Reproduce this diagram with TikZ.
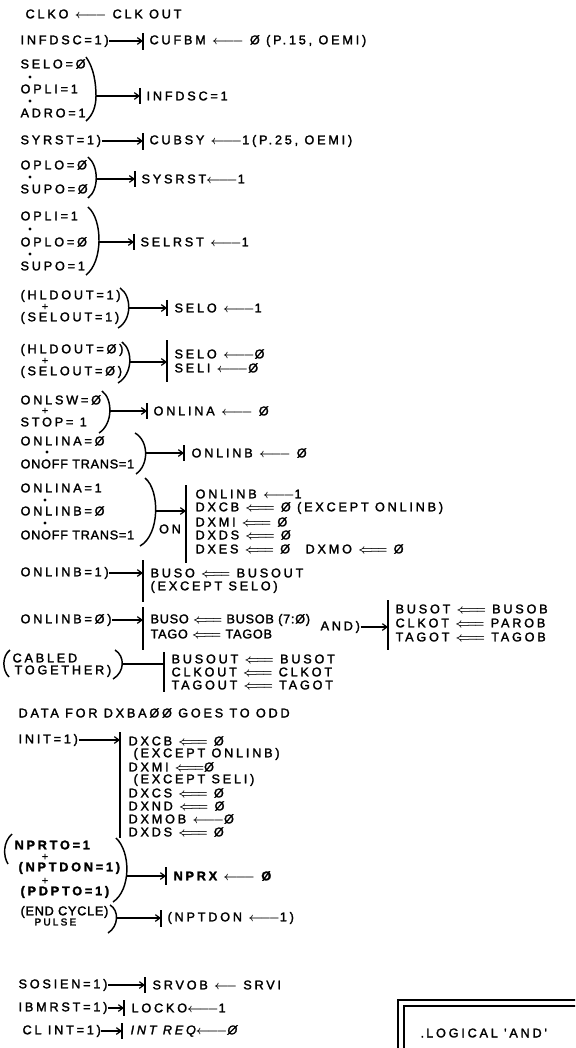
\documentclass[tikz,border=0pt]{standalone}
\usepackage{amsmath}
\usepackage{fontspec}
\usetikzlibrary{arrows.meta}
\newfontfamily\letterfont{Liberation Sans}[LetterSpace=22,FakeBold=2]
\newfontfamily\tightfont{Liberation Sans}[LetterSpace=6,FakeBold=2]
\newcommand{\lto}{{\boldmath$\leftarrow\joinrel\relbar\joinrel\relbar$}}
\newcommand{\sto}{{\boldmath$\leftarrow\joinrel\relbar$}}
\newcommand{\Lto}{{\boldmath$\Leftarrow\joinrel\Relbar\joinrel\Relbar$}}

\begin{document}
\begin{tikzpicture}[
  x=0.75pt,
  y=-0.75pt,
  line width=0.9pt,
  every node/.style={font=\letterfont\fontsize{9.5}{11}\selectfont},
  txt/.style={anchor=west, inner sep=0pt},
  tight/.style={font=\tightfont\fontsize{9.5}{11}\selectfont},
  heavy/.style={font=\letterfont\bfseries\fontsize{9.5}{11}\selectfont},
  plus/.style={inner sep=0pt, font=\letterfont\fontsize{8}{8}\selectfont},
  feed/.style={-{Straight Barb[length=3.5pt,width=5pt]}},
  andot/.style={circle, fill, inner sep=0pt, minimum size=2.6pt},
  brace/.style={line width=1.1pt}
]
  \useasboundingbox (0,0) rectangle (575,1048);
  \clip (0,0) rectangle (575,1048);

  % clock line
  \node[txt] (clko) at (25,14) {CLKO \lto\ CLK OUT};

  % INFDSC -> CUFBM
  \node[txt] (infdsc) at (20,41) {INFDSC=1)};
  \coordinate (b2) at (143,41);
  \draw (143,33) -- (143,50);
  \draw[feed] (infdsc.east) -- (b2);
  \node[txt] (cufbm) at (149,41) {CUFBM \lto\ Ø (P.15, OEMI)};

  % SELO . OPLI . ADRO
  \node[txt] (selo) at (20,64) {SELO=Ø};
  \node[andot] (d3a) at (30,77) {};
  \node[txt] (opli) at (20,89) {OPLI=1};
  \node[andot] (d3b) at (30,101) {};
  \node[txt] (adro) at (20,113) {ADRO=1};
  \draw[brace] (86,57) .. controls (94,68) and (96,84) .. (96,96)
    .. controls (96,106) and (93,115) .. (86,121);
  \coordinate (j3) at (96,96);
  \coordinate (b3) at (140,96);
  \draw (140,88) -- (140,104);
  \draw[feed] (j3) -- (b3);
  \node[txt] (infdsc1) at (146,96) {INFDSC=1};

  % SYRST -> CUBSY
  \node[txt] (syrst) at (20,141) {SYRST=1)};
  \coordinate (b4) at (143,141);
  \draw (143,133) -- (143,150);
  \draw[feed] (syrst.east) -- (b4);
  \node[txt] (cubsy) at (149,141) {CUBSY \lto1(P.25, OEMI)};

  % OPLO . SUPO
  \node[txt] (oplo) at (20,165) {OPLO=Ø};
  \node[andot] (d5) at (30,177) {};
  \node[txt] (supo) at (20,189) {SUPO=Ø};
  \draw[brace] (88,157) .. controls (99,166) and (99,190) .. (88,198);
  \coordinate (j5) at (96,179);
  \coordinate (b5) at (135,179);
  \draw (135,171) -- (135,187);
  \draw[feed] (j5) -- (b5);
  \node[txt] (sysrst) at (141,179) {SYSRST\lto1};

  % OPLI . OPLO . SUPO
  \node[txt] (opli2) at (20,216) {OPLI=1};
  \node[andot] (d6a) at (30,229) {};
  \node[txt] (oplo2) at (20,242) {OPLO=Ø};
  \node[andot] (d6b) at (30,254) {};
  \node[txt] (supo2) at (20,266) {SUPO=1};
  \draw[brace] (88,207) .. controls (103,220) and (103,262) .. (86,275);
  \coordinate (j6) at (99,242);
  \coordinate (b6) at (134,242);
  \draw (134,234) -- (134,250);
  \draw[feed] (j6) -- (b6);
  \node[txt] (selrst) at (140,242) {SELRST \lto1};

  % HLDOUT + SELOUT = 1
  \node[txt] (hld1) at (20,296) {(HLDOUT=1)};
  \node[plus] (p7) at (45,307) {+};
  \node[txt] (sel1) at (20,318) {(SELOUT=1)};
  \draw[brace] (120,288) .. controls (132,296) and (132,320) .. (118,328);
  \coordinate (j7) at (129,308);
  \coordinate (b7) at (167,308);
  \draw (167,300) -- (167,316);
  \draw[feed] (j7) -- (b7);
  \node[txt] (selo1) at (174,308) {SELO \lto1};

  % HLDOUT + SELOUT = 0
  \node[txt] (hld0) at (20,350) {(HLDOUT=Ø)};
  \node[plus] (p8) at (45,361) {+};
  \node[txt] (sel0) at (20,372) {(SELOUT=Ø)};
  \draw[brace] (122,342) .. controls (133,350) and (133,374) .. (118,383);
  \coordinate (j8) at (130,362);
  \coordinate (b8) at (167,362);
  \draw (167,340) -- (167,382);
  \draw[feed] (j8) -- (b8);
  \node[txt] (selo0) at (174,354) {SELO \lto Ø};
  \node[txt] (seli0) at (174,368) {SELI \lto Ø};

  % ONLSW + STOP
  \node[txt] (onlsw) at (20,400) {ONLSW=Ø};
  \node[plus] (p9) at (45,411) {+};
  \node[txt] (stop) at (20,422) {STOP= 1};
  \draw[brace] (102,391) .. controls (113,399) and (113,424) .. (99,433);
  \coordinate (j9) at (110,411);
  \coordinate (b9) at (147,411);
  \draw (147,403) -- (147,419);
  \draw[feed] (j9) -- (b9);
  \node[txt] (onlina) at (153,411) {ONLINA \lto\ Ø};

  % ONLINA . ONOFF TRANS
  \node[txt] (onlina0) at (20,441) {ONLINA=Ø};
  \node[andot] (d10) at (47,452) {};
  \node[txt, tight] (onoff1) at (20,464) {ONOFF TRANS=1};
  \draw[brace] (135,433) .. controls (149,441) and (149,465) .. (136,474);
  \coordinate (j10) at (146,453);
  \coordinate (b10) at (184,453);
  \draw (184,445) -- (184,461);
  \draw[feed] (j10) -- (b10);
  \node[txt] (onlinb0) at (191,453) {ONLINB \lto\ Ø};

  % ONLINA . ONLINB . ONOFF TRANS
  \node[txt] (onlina1) at (20,488) {ONLINA=1};
  \node[andot] (d11a) at (45,500) {};
  \node[txt] (onlinb1) at (20,511) {ONLINB=Ø};
  \node[andot] (d11b) at (45,523) {};
  \node[txt, tight] (onoff2) at (20,535) {ONOFF TRANS=1};
  \draw[brace] (145,478) .. controls (160,490) and (160,535) .. (140,546);
  \coordinate (j11) at (156,511);
  \coordinate (b11) at (186,511);
  \draw (186,485) -- (186,563);
  \draw[feed] (j11) -- (b11);
  \node (on) at (170,529) {ON};
  \node[txt] (r11a) at (195,494) {ONLINB \lto1};
  \node[txt] (r11b) at (195,508) {DXCB \Lto\ Ø (EXCEPT ONLINB)};
  \node[txt] (r11c) at (195,522) {DXMI \Lto\ Ø};
  \node[txt] (r11d) at (195,535) {DXDS \Lto\ Ø};
  \node[txt] (r11e) at (195,549) {DXES \Lto\ Ø};
  \node[txt] (dxmo) at (305,549) {DXMO \Lto\ Ø};

  % ONLINB = 1
  \node[txt] (onlinbA) at (20,573) {ONLINB=1)};
  \coordinate (b12) at (143,573);
  \draw (143,560) -- (143,602);
  \draw[feed] (onlinbA.east) -- (b12);
  \node[txt] (buso1) at (150,573) {BUSO \Lto\ BUSOUT};
  \node[txt] (exc1) at (150,587) {(EXCEPT SELO)};

  % ONLINB = 0
  \node[txt] (onlinbB) at (20,620) {ONLINB=Ø)};
  \coordinate (b13) at (143,620);
  \draw (143,607) -- (143,650);
  \draw[feed] (onlinbB.east) -- (b13);
  \node[txt, tight] (buso2) at (150,620) {BUSO \Lto\ BUSOB (7:Ø)};
  \node[txt, tight] (tago) at (150,634) {TAGO \Lto\ TAGOB};
  \node[txt] (and) at (320,627) {AND)};
  \coordinate (b13r) at (388,627);
  \draw (388,600) -- (388,650);
  \draw[feed] (and.east) -- (b13r);
  \node[txt] (busot) at (395,609) {BUSOT \Lto\ BUSOB};
  \node[txt] (clkot) at (395,623) {CLKOT \Lto\ PAROB};
  \node[txt] (tagot) at (395,637) {TAGOT \Lto\ TAGOB};

  % cabled together
  \draw[brace] (10,650) .. controls (2,656) and (2,670) .. (9,677);
  \node[txt] (cabled) at (12,658) {CABLED};
  \node[txt] (together) at (14,671) {TOGETHER)};
  \draw[brace] (115,650) .. controls (125,656) and (125,672) .. (113,679);
  \coordinate (j14) at (122,664);
  \coordinate (b14) at (164,664);
  \draw (164,652) -- (164,692);
  \draw (j14) -- (b14);
  \node[txt] (busout) at (171,659) {BUSOUT \Lto\ BUSOT};
  \node[txt] (clkout) at (171,672) {CLKOUT \Lto\ CLKOT};
  \node[txt] (tagout) at (171,685) {TAGOUT \Lto\ TAGOT};

  \node[txt] (data) at (18,713) {DATA FOR DXBAØØ GOES TO ODD};

  % INIT
  \node[txt] (init) at (18,740) {INIT=1)};
  \coordinate (b16) at (120,740);
  \draw (120,732) -- (120,838);
  \draw[feed] (init.east) -- (b16);
  \node[txt] (dxcb) at (128,741) {DXCB \Lto\ Ø};
  \node[txt] (exc2) at (133,754) {(EXCEPT ONLINB)};
  \node[txt] (dxmi) at (128,767) {DXMI \Lto Ø};
  \node[txt] (exc3) at (133,780) {(EXCEPT SELI)};
  \node[txt] (dxcs) at (128,793) {DXCS \Lto\ Ø};
  \node[txt] (dxnd) at (128,806) {DXND \Lto\ Ø};
  \node[txt] (dxmob) at (128,819) {DXMOB \lto Ø};
  \node[txt] (dxds) at (128,832) {DXDS \Lto\ Ø};

  % NPRTO + NPTDON + PDPTO
  \draw[brace] (12,834) .. controls (3,842) and (3,856) .. (8,864);
  \node[txt, heavy] (nprto) at (14,845) {NPRTO=1};
  \node[plus] (p17a) at (45,857) {+};
  \node[txt, heavy] (nptdon) at (18,868) {(NPTDON=1)};
  \node[plus] (p17b) at (45,881) {+};
  \node[txt, heavy] (pdpto) at (20,892) {(PDPTO=1)};
  \draw[brace] (116,838) .. controls (131,852) and (131,890) .. (113,902);
  \coordinate (j17) at (127,876);
  \coordinate (b17) at (166,876);
  \draw (166,867) -- (166,885);
  \draw[feed] (j17) -- (b17);
  \node[txt, heavy] (nprx) at (173,876) {NPRX \lto\ Ø};

  % END CYCLE PULSE
  \node[txt, tight] (endcyc) at (20,912) {(END CYCLE)};
  \node[txt, font=\letterfont\fontsize{7.5}{9}\selectfont] (pulse) at (34,922) {PULSE};
  \draw[brace] (110,905) .. controls (119,910) and (119,926) .. (108,933);
  \coordinate (j18) at (117,918);
  \coordinate (b18) at (161,918);
  \draw (161,910) -- (161,927);
  \draw[feed] (j18) -- (b18);
  \node[txt] (nptdon2) at (167,918) {(NPTDON \lto1)};

  % SOSIEN, IBMRST, CL INT
  \node[txt] (sosien) at (18,985) {SOSIEN=1)};
  \coordinate (b19) at (145,985);
  \draw (145,977) -- (145,993);
  \draw[feed] (sosien.east) -- (b19);
  \node[txt] (srvob) at (152,985) {SRVOB \sto\ SRVI};

  \node[txt] (ibmrst) at (18,1008) {IBMRST=1)};
  \coordinate (b20) at (124,1008);
  \draw (124,1000) -- (124,1016);
  \draw[feed] (ibmrst.east) -- (b20);
  \node[txt] (locko) at (131,1008) {LOCKO\lto 1};

  \node[txt] (clint) at (22,1031) {CL INT=1)};
  \coordinate (b21) at (122,1031);
  \draw (122,1023) -- (122,1039);
  \draw[feed] (clint.east) -- (b21);
  \node[txt, font=\letterfont\itshape\fontsize{9.5}{11}\selectfont] (intreq) at (130,1031) {INT REQ\lto Ø};

  % legend box
  \draw (398,1060) -- (398,1000) -- (590,1000);
  \draw (404,1060) -- (404,1006) -- (590,1006);
  \node[txt] (lgand) at (420,1033) {.\,LOGICAL 'AND'};
\end{tikzpicture}
\end{document}
